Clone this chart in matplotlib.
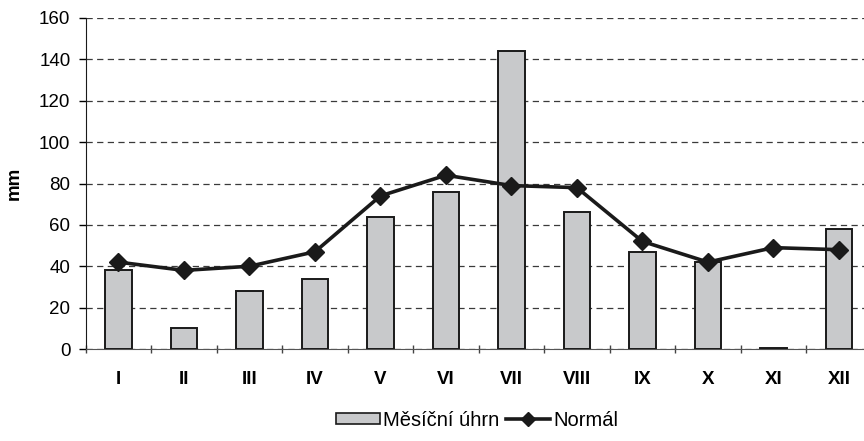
import matplotlib
matplotlib.use("Agg")
import matplotlib.pyplot as plt
import numpy as np
from matplotlib.lines import Line2D
from matplotlib.patches import Patch

plt.rcParams['font.family'] = ['Liberation Sans', 'DejaVu Sans']

months = ['I', 'II', 'III', 'IV', 'V', 'VI', 'VII', 'VIII', 'IX', 'X', 'XI', 'XII']
monthly_total = [38, 10, 28, 34, 64, 76, 144, 66, 47, 42, 0.6, 58]
normal = [42, 38, 40, 47, 74, 84, 79, 78, 52, 42, 49, 48]

fig = plt.figure(figsize=(8.64, 4.41), dpi=100)
ax = fig.add_axes([85.7 / 864, 1 - 349 / 441, 786 / 864, 331 / 441])

x = np.arange(len(months))
ax.bar(x, monthly_total, width=0.40, color='#c8c9cb', edgecolor='#1a1a1a',
       linewidth=1.4, zorder=3)
ax.plot(x, normal, color='#1a1a1a', linewidth=2.6, marker='D', markersize=9,
        zorder=4)

ax.set_xlim(-0.5, len(months) - 0.5)
ax.set_ylim(0, 160)
ax.set_yticks(np.arange(0, 161, 20))
ax.tick_params(axis='y', labelsize=13.5, length=5, width=1, direction='out', pad=6)
ax.yaxis.grid(True, linestyle=(0, (5, 3.5)), color='#3a3a3a', linewidth=0.9, zorder=0)

ax.set_xticks(x)
ax.set_xticklabels(months, fontweight='bold', fontsize=13.5)
ax.tick_params(axis='x', length=0, pad=16)
ax.set_xticks(np.arange(-0.5, len(months), 1), minor=True)
ax.tick_params(axis='x', which='minor', length=6, width=1, direction='inout',
               color='#444444')

for s in ['top', 'right']:
    ax.spines[s].set_visible(False)
ax.spines['left'].set_color('#1a1a1a')
ax.spines['bottom'].set_color('#555555')

ax.set_ylabel('mm', fontweight='bold', fontsize=13.5, labelpad=12)

handles = [Patch(facecolor='#c8c9cb', edgecolor='#1a1a1a', linewidth=1.2),
           Line2D([], [], color='#1a1a1a', linewidth=2.6, marker='D', markersize=7)]
fig.legend(handles, ['Měsíční úhrn', 'Normál'], loc='center',
           bbox_to_anchor=(477 / 864, 1 - 420 / 441), ncol=2, frameon=False,
           fontsize=14.5, handlelength=2.2, handleheight=0.45, handletextpad=0.15,
           columnspacing=0.3)

fig.savefig('out.png', dpi=100)
